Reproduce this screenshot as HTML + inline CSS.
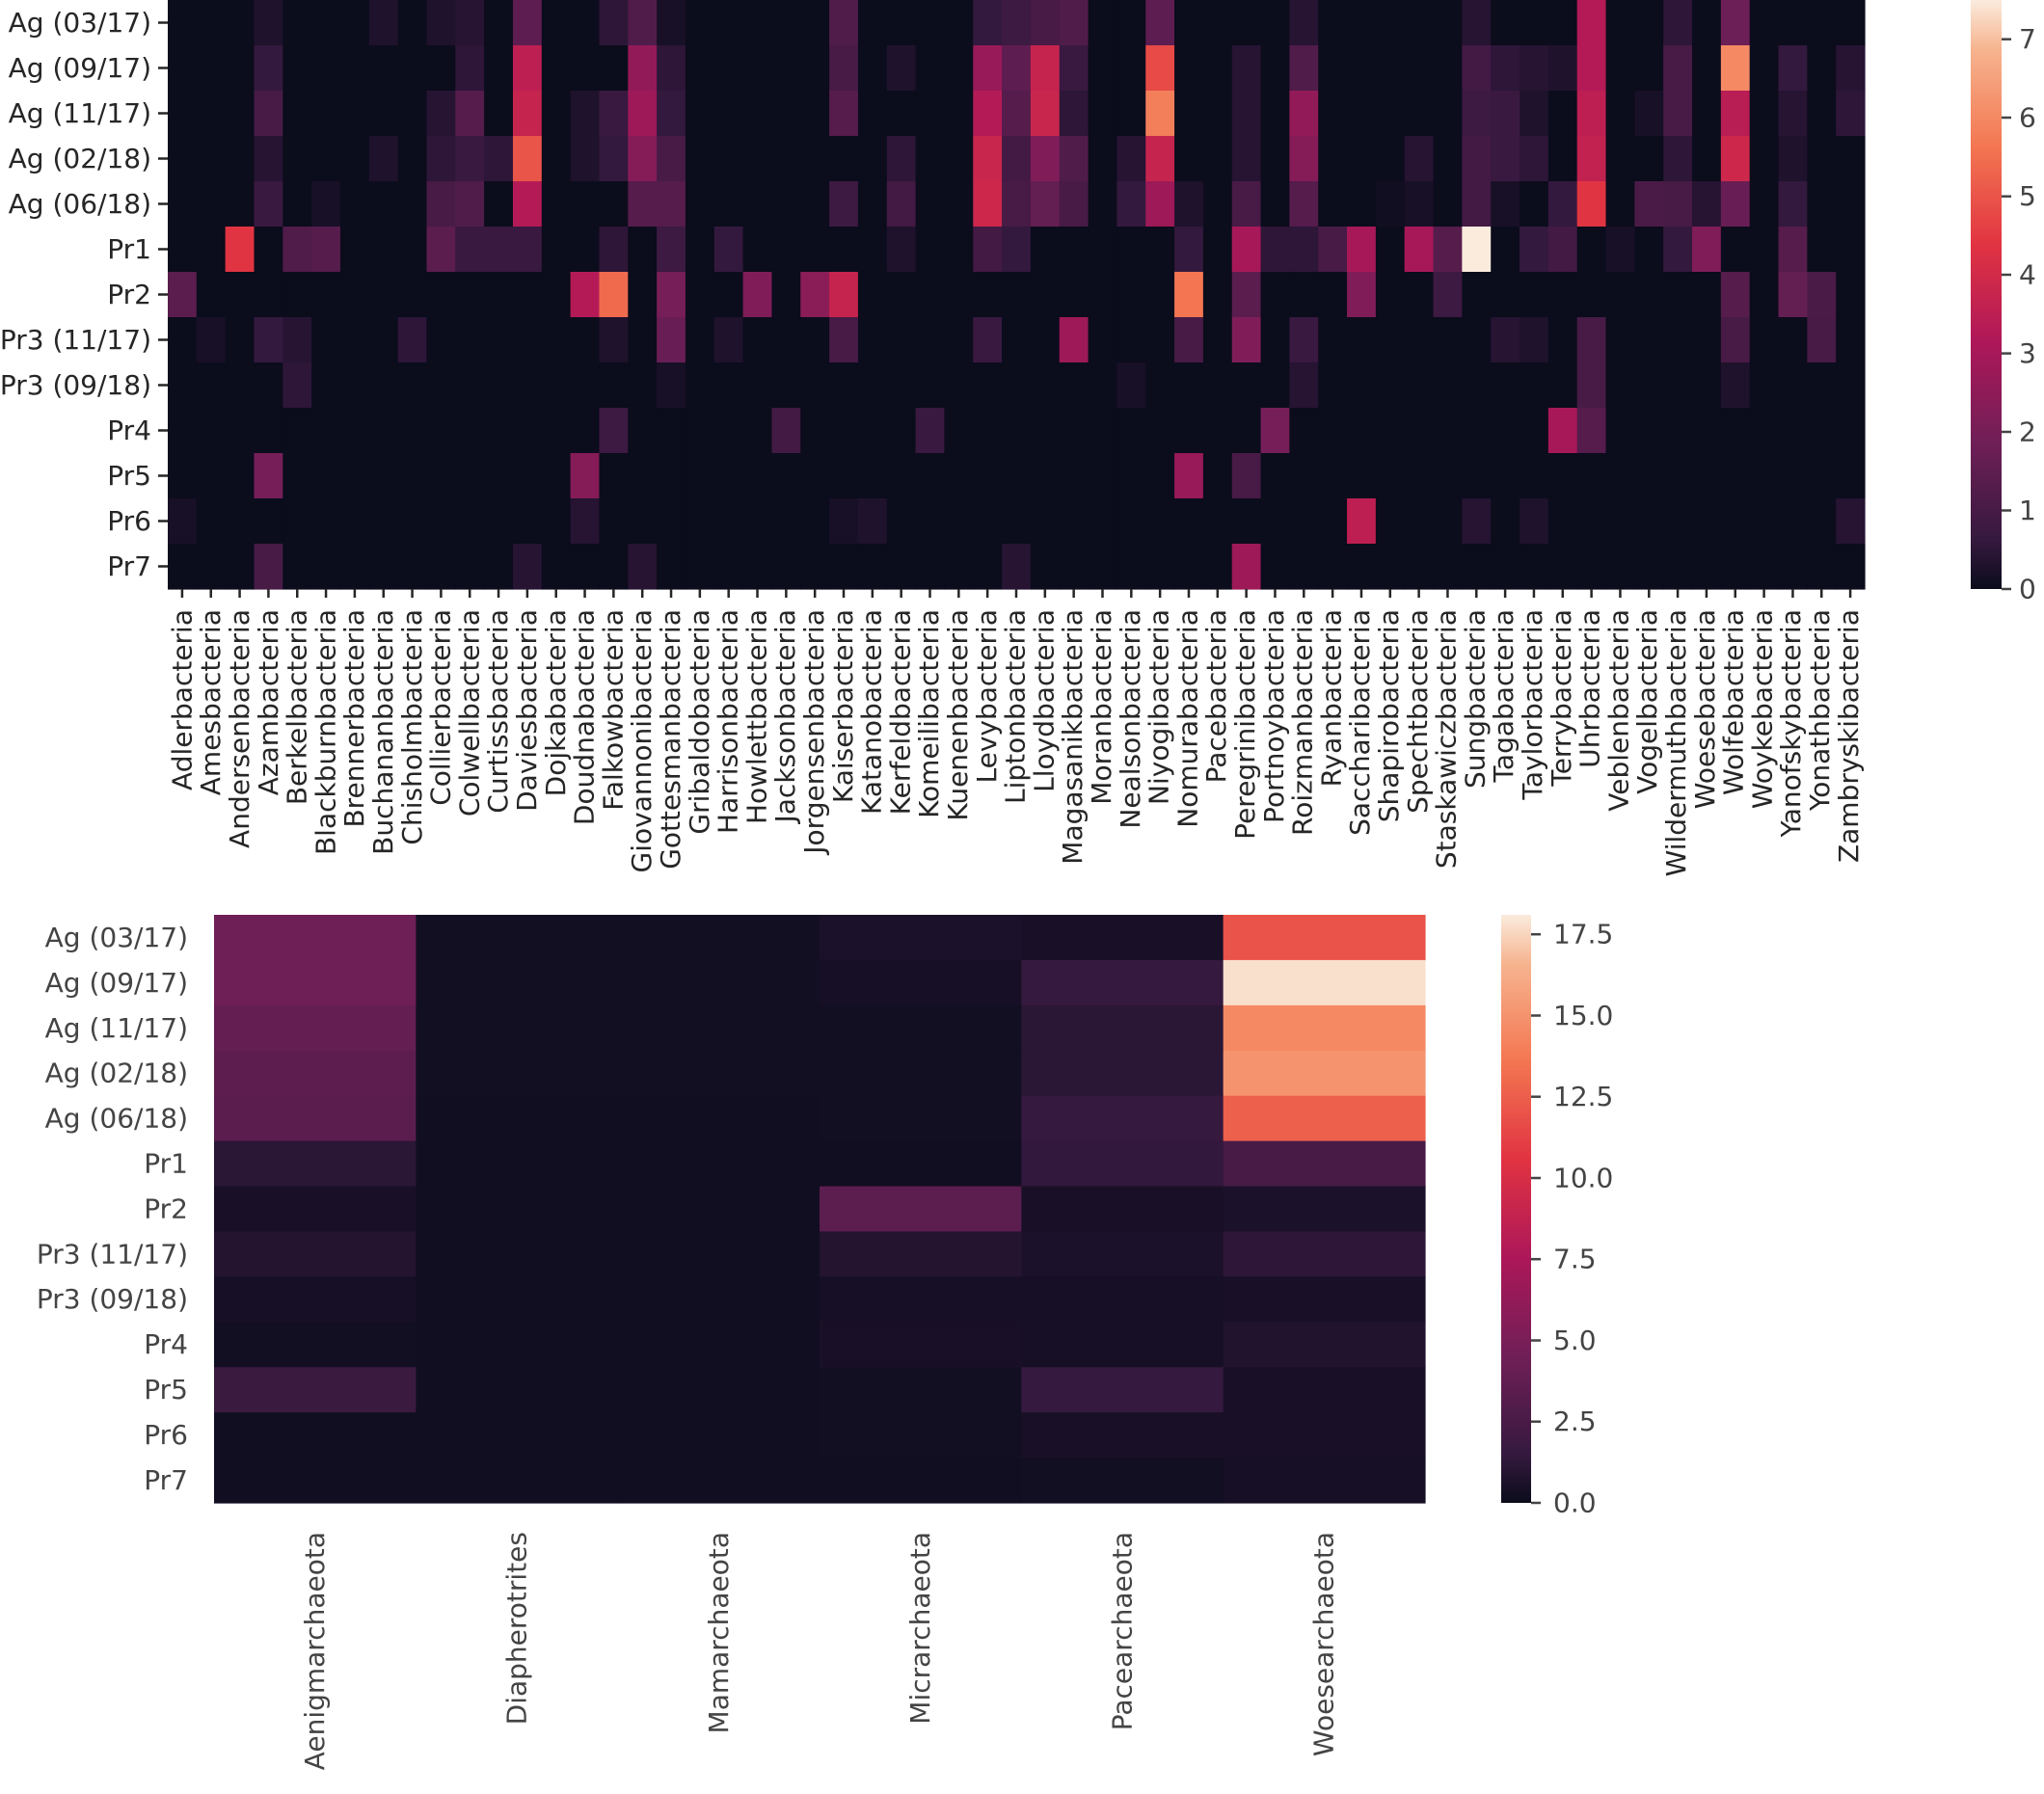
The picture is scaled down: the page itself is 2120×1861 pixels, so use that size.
<!DOCTYPE html>
<html><head><meta charset="utf-8"><style>
html,body{margin:0;padding:0;background:#fff;}
svg{display:block;}
text{font-family:"DejaVu Sans","Liberation Sans",sans-serif;font-size:28px;}
.a{fill:#262626;}
.g{fill:#444;}
</style></head><body>
<svg id="s" width="2120" height="1861" viewBox="0 0 2120 1861" xmlns="http://www.w3.org/2000/svg">
<defs>
<linearGradient id="rk" x1="0" y1="1" x2="0" y2="0">
<stop offset="0" stop-color="#0b0c1c"/>
<stop offset="0.083" stop-color="#35193e"/>
<stop offset="0.25" stop-color="#701f57"/>
<stop offset="0.417" stop-color="#ad1759"/>
<stop offset="0.583" stop-color="#e13342"/>
<stop offset="0.75" stop-color="#f37651"/>
<stop offset="0.917" stop-color="#f6b48f"/>
<stop offset="1" stop-color="#faebdd"/>
</linearGradient>
</defs>
<g id="cells"></g>
<rect x="2044" y="0" width="32" height="611" fill="url(#rk)"/>
<g stroke="#444" stroke-width="2.5">
<line x1="2076" x2="2086" y1="611" y2="611"/><line x1="2076" x2="2086" y1="529.5" y2="529.5"/><line x1="2076" x2="2086" y1="448" y2="448"/><line x1="2076" x2="2086" y1="366.6" y2="366.6"/><line x1="2076" x2="2086" y1="285" y2="285"/><line x1="2076" x2="2086" y1="203.7" y2="203.7"/><line x1="2076" x2="2086" y1="122" y2="122"/><line x1="2076" x2="2086" y1="40.7" y2="40.7"/>
</g>
<g class="g" dominant-baseline="central">
<text x="2094" y="611">0</text><text x="2094" y="529.5">1</text><text x="2094" y="448">2</text><text x="2094" y="366.6">3</text><text x="2094" y="285">4</text><text x="2094" y="203.7">5</text><text x="2094" y="122">6</text><text x="2094" y="40.7">7</text>
</g>
<rect x="1557" y="949" width="31" height="610" fill="url(#rk)"/>
<g stroke="#444" stroke-width="2.5">
<line x1="1588" x2="1598" y1="1559" y2="1559"/><line x1="1588" x2="1598" y1="1474.7" y2="1474.7"/><line x1="1588" x2="1598" y1="1390.5" y2="1390.5"/><line x1="1588" x2="1598" y1="1306.2" y2="1306.2"/><line x1="1588" x2="1598" y1="1222" y2="1222"/><line x1="1588" x2="1598" y1="1137.7" y2="1137.7"/><line x1="1588" x2="1598" y1="1053.5" y2="1053.5"/><line x1="1588" x2="1598" y1="969.2" y2="969.2"/>
</g>
<g class="g" dominant-baseline="central">
<text x="1611" y="1559">0.0</text><text x="1611" y="1474.7">2.5</text><text x="1611" y="1390.5">5.0</text><text x="1611" y="1306.2">7.5</text><text x="1611" y="1222">10.0</text><text x="1611" y="1137.7">12.5</text><text x="1611" y="1053.5">15.0</text><text x="1611" y="969.2">17.5</text>
</g>
<g class="a" text-anchor="end" dominant-baseline="central">
<text x="157" y="23.5">Ag (03/17)</text><text x="157" y="70.5">Ag (09/17)</text><text x="157" y="117.5">Ag (11/17)</text><text x="157" y="164.5">Ag (02/18)</text><text x="157" y="211.5">Ag (06/18)</text><text x="157" y="258.5">Pr1</text><text x="157" y="305.5">Pr2</text><text x="157" y="352.5">Pr3 (11/17)</text><text x="157" y="399.5">Pr3 (09/18)</text><text x="157" y="446.5">Pr4</text><text x="157" y="493.5">Pr5</text><text x="157" y="540.5">Pr6</text><text x="157" y="587.5">Pr7</text>
</g>
<g class="g" text-anchor="end" dominant-baseline="central">
<text x="195" y="972.5">Ag (03/17)</text><text x="195" y="1019.4">Ag (09/17)</text><text x="195" y="1066.3">Ag (11/17)</text><text x="195" y="1113.2">Ag (02/18)</text><text x="195" y="1160.1">Ag (06/18)</text><text x="195" y="1207">Pr1</text><text x="195" y="1253.9">Pr2</text><text x="195" y="1300.8">Pr3 (11/17)</text><text x="195" y="1347.7">Pr3 (09/18)</text><text x="195" y="1394.6">Pr4</text><text x="195" y="1441.5">Pr5</text><text x="195" y="1488.4">Pr6</text><text x="195" y="1535.3">Pr7</text>
</g>
<g class="g" text-anchor="end" dominant-baseline="central">
<text transform="translate(326.6,1589) rotate(-90)">Aenigmarchaeota</text>
<text transform="translate(536,1589) rotate(-90)">Diapherotrites</text>
<text transform="translate(745.3,1589) rotate(-90)">Mamarchaeota</text>
<text transform="translate(954.6,1589) rotate(-90)">Micrarchaeota</text>
<text transform="translate(1163.9,1589) rotate(-90)">Pacearchaeota</text>
<text transform="translate(1373.2,1589) rotate(-90)">Woesearchaeota</text>
</g>
<g class="a" text-anchor="end" dominant-baseline="central">
<text transform="translate(188.9,632) rotate(-90)">Adlerbacteria</text>
<text transform="translate(218.7,632) rotate(-90)">Amesbacteria</text>
<text transform="translate(248.5,632) rotate(-90)">Andersenbacteria</text>
<text transform="translate(278.3,632) rotate(-90)">Azambacteria</text>
<text transform="translate(308.1,632) rotate(-90)">Berkelbacteria</text>
<text transform="translate(337.9,632) rotate(-90)">Blackburnbacteria</text>
<text transform="translate(367.7,632) rotate(-90)">Brennerbacteria</text>
<text transform="translate(397.5,632) rotate(-90)">Buchananbacteria</text>
<text transform="translate(427.3,632) rotate(-90)">Chisholmbacteria</text>
<text transform="translate(457.1,632) rotate(-90)">Collierbacteria</text>
<text transform="translate(486.9,632) rotate(-90)">Colwellbacteria</text>
<text transform="translate(516.7,632) rotate(-90)">Curtissbacteria</text>
<text transform="translate(546.5,632) rotate(-90)">Daviesbacteria</text>
<text transform="translate(576.3,632) rotate(-90)">Dojkabacteria</text>
<text transform="translate(606.1,632) rotate(-90)">Doudnabacteria</text>
<text transform="translate(635.9,632) rotate(-90)">Falkowbacteria</text>
<text transform="translate(665.7,632) rotate(-90)">Giovannonibacteria</text>
<text transform="translate(695.5,632) rotate(-90)">Gottesmanbacteria</text>
<text transform="translate(725.3,632) rotate(-90)">Gribaldobacteria</text>
<text transform="translate(755.1,632) rotate(-90)">Harrisonbacteria</text>
<text transform="translate(784.9,632) rotate(-90)">Howlettbacteria</text>
<text transform="translate(814.7,632) rotate(-90)">Jacksonbacteria</text>
<text transform="translate(844.5,632) rotate(-90)">Jorgensenbacteria</text>
<text transform="translate(874.3,632) rotate(-90)">Kaiserbacteria</text>
<text transform="translate(904.1,632) rotate(-90)">Katanobacteria</text>
<text transform="translate(933.9,632) rotate(-90)">Kerfeldbacteria</text>
<text transform="translate(963.7,632) rotate(-90)">Komeilibacteria</text>
<text transform="translate(993.5,632) rotate(-90)">Kuenenbacteria</text>
<text transform="translate(1023.3,632) rotate(-90)">Levybacteria</text>
<text transform="translate(1053.1,632) rotate(-90)">Liptonbacteria</text>
<text transform="translate(1082.9,632) rotate(-90)">Lloydbacteria</text>
<text transform="translate(1112.7,632) rotate(-90)">Magasanikbacteria</text>
<text transform="translate(1142.5,632) rotate(-90)">Moranbacteria</text>
<text transform="translate(1172.3,632) rotate(-90)">Nealsonbacteria</text>
<text transform="translate(1202.1,632) rotate(-90)">Niyogibacteria</text>
<text transform="translate(1231.9,632) rotate(-90)">Nomurabacteria</text>
<text transform="translate(1261.7,632) rotate(-90)">Pacebacteria</text>
<text transform="translate(1291.5,632) rotate(-90)">Peregrinibacteria</text>
<text transform="translate(1321.3,632) rotate(-90)">Portnoybacteria</text>
<text transform="translate(1351.1,632) rotate(-90)">Roizmanbacteria</text>
<text transform="translate(1380.9,632) rotate(-90)">Ryanbacteria</text>
<text transform="translate(1410.7,632) rotate(-90)">Saccharibacteria</text>
<text transform="translate(1440.5,632) rotate(-90)">Shapirobacteria</text>
<text transform="translate(1470.3,632) rotate(-90)">Spechtbacteria</text>
<text transform="translate(1500.1,632) rotate(-90)">Staskawiczbacteria</text>
<text transform="translate(1529.9,632) rotate(-90)">Sungbacteria</text>
<text transform="translate(1559.7,632) rotate(-90)">Tagabacteria</text>
<text transform="translate(1589.5,632) rotate(-90)">Taylorbacteria</text>
<text transform="translate(1619.3,632) rotate(-90)">Terrybacteria</text>
<text transform="translate(1649.1,632) rotate(-90)">Uhrbacteria</text>
<text transform="translate(1678.9,632) rotate(-90)">Veblenbacteria</text>
<text transform="translate(1708.7,632) rotate(-90)">Vogelbacteria</text>
<text transform="translate(1738.5,632) rotate(-90)">Wildermuthbacteria</text>
<text transform="translate(1768.3,632) rotate(-90)">Woesebacteria</text>
<text transform="translate(1798.1,632) rotate(-90)">Wolfebacteria</text>
<text transform="translate(1827.9,632) rotate(-90)">Woykebacteria</text>
<text transform="translate(1857.7,632) rotate(-90)">Yanofskybacteria</text>
<text transform="translate(1887.5,632) rotate(-90)">Yonathbacteria</text>
<text transform="translate(1917.3,632) rotate(-90)">Zambryskibacteria</text>
</g>
<g id="ticks" stroke="#262626" stroke-width="2.5"></g>
</svg>
<script>
(function(){
var stops=[[0,[11,12,28]],[0.083,[53,25,62]],[0.25,[112,31,87]],[0.417,[173,23,89]],[0.583,[225,51,66]],[0.75,[243,118,81]],[0.917,[246,180,143]],[1,[250,235,221]]];
function col(t){t=Math.max(0,Math.min(1,t));for(var i=1;i<stops.length;i++){if(t<=stops[i][0]){var a=stops[i-1],b=stops[i],f=(t-a[0])/(b[0]-a[0]);return 'rgb('+[0,1,2].map(function(k){return Math.round(a[1][k]+(b[1][k]-a[1][k])*f)}).join(',')+')';}}return 'rgb(250,235,221)';}
var NS='http://www.w3.org/2000/svg',g=document.getElementById('cells'),tk=document.getElementById('ticks');
function rect(x,y,w,h,c){var r=document.createElementNS(NS,'rect');r.setAttribute('x',x);r.setAttribute('y',y);r.setAttribute('width',w+0.6);r.setAttribute('height',h+0.6);r.setAttribute('fill',c);g.appendChild(r);}
function line(x1,y1,x2,y2){var l=document.createElementNS(NS,'line');l.setAttribute('x1',x1);l.setAttribute('y1',y1);l.setAttribute('x2',x2);l.setAttribute('y2',y2);tk.appendChild(l);}
var T={
0:{3:.3,7:.3,9:.3,10:.4,12:1.5,15:.5,16:1.2,17:.2,23:1.2,28:.6,29:.8,30:1,31:1.2,34:1.5,39:.4,45:.4,49:3.3,52:.5,54:1.8},
1:{3:.6,10:.5,12:3.5,16:2.6,17:.5,23:1,25:.3,28:2.7,29:1.5,30:3.7,31:.7,34:4.8,37:.4,39:1.2,45:.9,46:.5,47:.4,48:.3,49:3.3,52:1,54:6,56:.6,58:.4},
2:{3:1,9:.4,10:1.3,12:3.7,14:.3,15:.7,16:2.8,17:.6,23:1.3,28:3.3,29:1.3,30:3.8,31:.5,34:5.8,37:.4,39:2.6,45:.8,46:.7,47:.3,49:3.5,51:.2,52:1,54:3.4,56:.4,58:.5},
3:{3:.4,7:.3,9:.5,10:.7,11:.5,12:5,14:.3,15:.6,16:2.3,17:1,25:.5,28:3.8,29:.9,30:2.2,31:1.2,33:.4,34:3.7,37:.4,39:2.3,43:.4,45:.9,46:.7,47:.5,49:3.6,52:.5,54:3.9,56:.3},
4:{3:.7,5:.2,9:1,10:1.2,12:3.3,16:1.3,17:1.3,23:.8,25:.9,28:3.9,29:1,30:1.6,31:1,33:.6,34:2.8,35:.3,37:1,39:1.3,42:.1,43:.2,45:.9,46:.2,48:.6,49:4.4,51:1.1,52:1,53:.4,54:1.7,56:.6},
5:{2:4.4,4:1.2,5:1.3,9:1.4,10:.7,11:.7,12:.7,15:.5,17:.8,19:.6,25:.3,28:.9,29:.6,35:.6,37:3,38:.5,39:.5,40:1,41:3,43:3,44:1.3,45:7.5,47:.6,48:.9,50:.2,52:.6,53:2.2,56:1.3},
6:{0:1.4,14:3.3,15:5.4,17:2,20:2.2,22:2.4,23:3.7,35:5.6,37:1.4,41:2.2,44:.8,54:1.3,56:1.6,57:1.1},
7:{1:.2,3:.6,4:.4,8:.5,15:.3,17:1.7,19:.3,23:1,28:.7,31:2.8,35:1,37:2.2,39:.7,46:.4,47:.3,49:1,54:1,57:1},
8:{4:.5,17:.2,33:.2,39:.4,49:1,54:.3},
9:{15:.8,21:.9,26:.7,38:2,48:3,49:1.3},
10:{3:2,14:2.3,35:2.7,37:1},
11:{0:.2,14:.4,23:.2,24:.3,41:3.5,45:.4,47:.3,58:.4},
12:{3:1,12:.4,16:.4,29:.4,37:2.8}};
var x0=174,cw=(1934-174)/59,rh=611/13;
for(var r=0;r<13;r++)for(var c=0;c<59;c++){var v=(T[r]&&T[r][c])||0;rect(x0+c*cw,r*rh,cw,rh,col(v/7.5));}
for(var c=0;c<59;c++)line(x0+(c+.5)*cw,611,x0+(c+.5)*cw,620);
for(var r=0;r<13;r++)line(164,(r+.5)*rh,174,(r+.5)*rh);
var B=[[4.4,.3,.3,.6,.5,12],[4.4,.3,.3,.4,1.5,17.8],[3.9,.3,.3,.3,1.1,14.5],[3.6,.3,.3,.3,1.1,15],[3.4,.2,.2,.3,1.5,12.6],[1.1,.2,.2,.2,1.4,2.4],[.5,.2,.2,3.5,.5,.6],[.9,.2,.2,.9,.6,1.2],[.4,.2,.2,.4,.4,.5],[.3,.2,.2,.5,.4,.8],[1.8,.2,.2,.3,1.5,.5],[.2,.2,.2,.3,.5,.5],[.2,.2,.2,.2,.3,.4]];
var bx=222,bw=(1478-222)/6,by=949,bh=610/13;
for(var r=0;r<13;r++)for(var c=0;c<6;c++)rect(bx+c*bw,by+r*bh,bw,bh,col(B[r][c]/18.1));
})();
</script>
</body></html>
